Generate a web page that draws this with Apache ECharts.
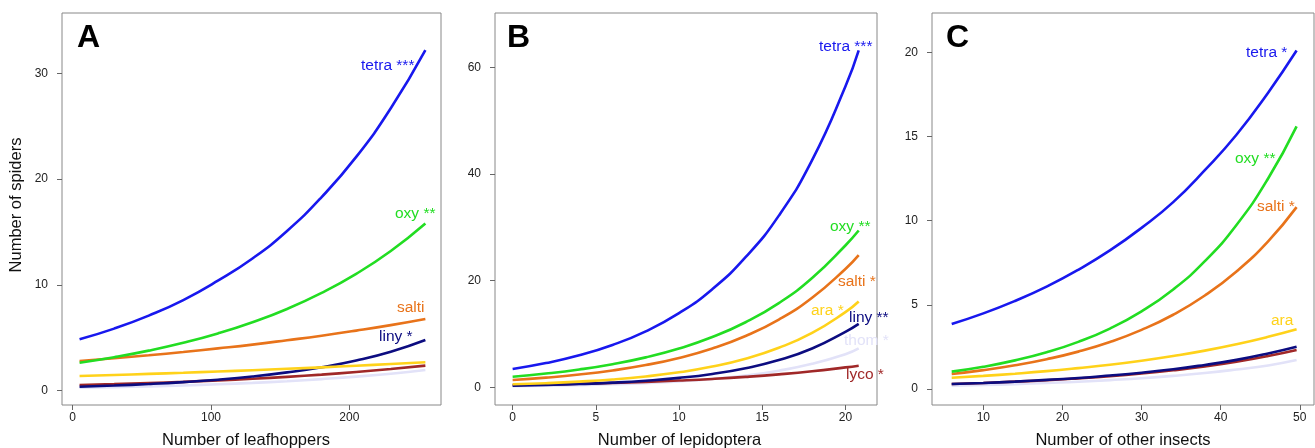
<!DOCTYPE html>
<html>
<head>
<meta charset="utf-8">
<script src="https://cdn.jsdelivr.net/npm/echarts@6/dist/echarts.min.js"></script>
<style>
  html, body { margin: 0; padding: 0; background: #fff; }
  #chart { width: 1315px; height: 448px; }
</style>
</head>
<body>
<div id="chart"></div>
<script>
// panel A: leafhoppers
const xA = [5, 30, 55, 80, 105, 130, 155, 180, 205, 230, 255];
const tetraA = [4.86, 5.87, 7.1, 8.57, 10.4, 12.5, 15.1, 18.3, 22.1, 26.7, 32.2];
const oxyA = [2.65, 3.17, 3.79, 4.53, 5.41, 6.47, 7.73, 9.25, 11.05, 13.2, 15.8];
const saltiA = [2.81, 3.07, 3.35, 3.66, 4.0, 4.36, 4.77, 5.2, 5.68, 6.2, 6.78];
const linyA = [0.38, 0.49, 0.63, 0.81, 1.04, 1.34, 1.73, 2.22, 2.86, 3.69, 4.8];
const araA = [1.39, 1.49, 1.59, 1.7, 1.82, 1.94, 2.07, 2.21, 2.36, 2.52, 2.69];
const lycoA = [0.54, 0.63, 0.73, 0.84, 0.98, 1.13, 1.31, 1.52, 1.77, 2.05, 2.37];
const thomA = [0.28, 0.34, 0.41, 0.5, 0.61, 0.74, 0.9, 1.1, 1.33, 1.61, 1.96];

// panel B: lepidoptera
const xB = [0, 2, 4, 6, 8, 10, 12, 14, 16, 18, 20, 20.8];
const tetraB = [3.43, 4.54, 6.0, 7.94, 10.5, 13.9, 18.4, 24.4, 32.2, 42.6, 56.4, 63.2];
const oxyB = [1.99, 2.58, 3.34, 4.33, 5.61, 7.27, 9.42, 12.2, 15.8, 20.5, 26.6, 29.4];
const saltiB = [1.37, 1.81, 2.39, 3.16, 4.17, 5.51, 7.28, 9.62, 12.7, 16.8, 22.2, 24.8];
const araB = [0.56, 0.77, 1.07, 1.47, 2.04, 2.81, 3.89, 5.36, 7.41, 10.2, 14.1, 16.1];
const linyB = [0.3, 0.43, 0.61, 0.87, 1.24, 1.76, 2.51, 3.58, 5.1, 7.27, 10.4, 11.9];
const thomB = [0.2, 0.28, 0.4, 0.56, 0.79, 1.11, 1.57, 2.21, 3.12, 4.4, 6.2, 7.3];
const lycoB = [0.43, 0.53, 0.66, 0.82, 1.02, 1.27, 1.57, 1.95, 2.42, 3.0, 3.73, 4.05];

// panel C: other insects
const xC = [6, 10, 14, 18, 22, 26, 30, 34, 38, 42, 46, 49.6];
const tetraC = [3.86, 4.49, 5.23, 6.08, 7.08, 8.23, 9.57, 11.1, 13.0, 15.1, 17.6, 20.1];
const oxyC = [1.03, 1.32, 1.7, 2.18, 2.8, 3.59, 4.61, 5.91, 7.59, 9.74, 12.5, 15.6];
const saltiC = [0.89, 1.12, 1.41, 1.77, 2.22, 2.79, 3.51, 4.41, 5.55, 6.98, 8.77, 10.8];
const araC = [0.67, 0.78, 0.91, 1.06, 1.24, 1.44, 1.68, 1.96, 2.28, 2.66, 3.1, 3.55];
const linyC = [0.3, 0.36, 0.44, 0.54, 0.65, 0.8, 0.97, 1.17, 1.43, 1.73, 2.11, 2.51];
const lycoC = [0.3, 0.36, 0.44, 0.52, 0.63, 0.76, 0.92, 1.11, 1.34, 1.62, 1.96, 2.32];
const thomC = [0.2, 0.24, 0.29, 0.36, 0.43, 0.53, 0.64, 0.78, 0.95, 1.16, 1.4, 1.72];

// tick labels
const xTicksA = [0, 100, 200];
const yTicksA = [0, 10, 20, 30];
const xTicksB = [0, 5, 10, 15, 20];
const yTicksB = [0, 20, 40, 60];
const xTicksC = [10, 20, 30, 40, 50];
const yTicksC = [0, 5, 10, 15, 20];

const colors = {
  tetra: '#1818ee',
  oxy: '#22dd22',
  salti: '#e8731a',
  ara: '#ffd21a',
  liny: '#0c0c80',
  lyco: '#a02828',
  thom: '#e2e2f8'
};

const font = 'Liberation Sans, Arial, Helvetica, sans-serif';

function pairs(xs, ys) {
  return xs.map((x, i) => [x, ys[i]]);
}

function line(name, idx, xs, ys) {
  return {
    name: name,
    type: 'line',
    xAxisIndex: idx,
    yAxisIndex: idx,
    data: pairs(xs, ys),
    smooth: true,
    showSymbol: false,
    silent: true,
    lineStyle: { color: colors[name], width: 2.6 }
  };
}

function xAx(idx, min, max, ticks, title, shift) {
  return {
    type: 'value',
    gridIndex: idx,
    position: 'bottom',
    min: min,
    max: max,
    splitLine: { show: false },
    axisLine: { show: false, onZero: false },
    axisTick: { show: true, inside: false, length: 5, customValues: ticks, lineStyle: { color: '#666' } },
    axisLabel: { customValues: ticks, margin: 7, color: '#222', fontSize: 12, fontFamily: font },
    name: title,
    nameLocation: 'middle',
    nameGap: 27,
    nameTextStyle: { color: '#111', fontSize: 16.5, fontFamily: font, padding: [0, shift, 0, 0] }
  };
}

function yAx(idx, min, max, ticks, title) {
  return {
    type: 'value',
    gridIndex: idx,
    position: 'left',
    min: min,
    max: max,
    splitLine: { show: false },
    axisLine: { show: false, onZero: false },
    axisTick: { show: true, inside: false, length: 5, customValues: ticks, lineStyle: { color: '#666' } },
    axisLabel: { customValues: ticks, margin: 14, color: '#222', fontSize: 12, fontFamily: font },
    name: title,
    nameLocation: 'middle',
    nameGap: 37,
    nameTextStyle: { color: '#111', fontSize: 16.5, fontFamily: font, padding: [0, 0, 0, 8] }
  };
}

function tag(text, x, y, color) {
  return {
    type: 'text',
    left: x,
    top: y - 9,
    z: 100,
    style: { text: text, fill: color, fontSize: 15.5, fontFamily: font }
  };
}

function letter(text, x) {
  return {
    type: 'text',
    left: x,
    top: 22,
    z: 100,
    style: { text: text, fill: '#000', fontSize: 32, fontWeight: 'bold', fontFamily: font }
  };
}

const chart = echarts.init(document.getElementById('chart'), null, { renderer: 'canvas' });
const gridStyle = {
  show: true,
  borderColor: '#888',
  borderWidth: 1,
  backgroundColor: 'transparent',
  containLabel: false,
  outerBoundsMode: 'none'
};

chart.setOption({
  animation: false,
  backgroundColor: '#fff',
  grid: [
    Object.assign({ left: 62, top: 13, width: 379, height: 392 }, gridStyle),
    Object.assign({ left: 495, top: 13, width: 382, height: 392 }, gridStyle),
    Object.assign({ left: 932, top: 13, width: 382, height: 392 }, gridStyle)
  ],
  xAxis: [
    xAx(0, -7.7, 266.3, xTicksA, 'Number of leafhoppers', 11),
    xAx(1, -1.06, 21.9, xTicksB, 'Number of lepidoptera', 13),
    xAx(2, 3.51, 51.8, xTicksC, 'Number of other insects', 0)
  ],
  yAxis: [
    yAx(0, -1.35, 35.7, yTicksA, 'Number of spiders'),
    yAx(1, -3.32, 70.2, yTicksB, ''),
    yAx(2, -0.95, 22.33, yTicksC, '')
  ],
  series: [
    line('thom', 0, xA, thomA),
    line('lyco', 0, xA, lycoA),
    line('liny', 0, xA, linyA),
    line('ara', 0, xA, araA),
    line('salti', 0, xA, saltiA),
    line('oxy', 0, xA, oxyA),
    line('tetra', 0, xA, tetraA),

    line('thom', 1, xB, thomB),
    line('lyco', 1, xB, lycoB),
    line('liny', 1, xB, linyB),
    line('ara', 1, xB, araB),
    line('salti', 1, xB, saltiB),
    line('oxy', 1, xB, oxyB),
    line('tetra', 1, xB, tetraB),

    line('thom', 2, xC, thomC),
    line('lyco', 2, xC, lycoC),
    line('liny', 2, xC, linyC),
    line('ara', 2, xC, araC),
    line('salti', 2, xC, saltiC),
    line('oxy', 2, xC, oxyC),
    line('tetra', 2, xC, tetraC)
  ],
  graphic: [
    letter('A', 77),
    letter('B', 507),
    letter('C', 946),

    tag('tetra ***', 361, 67, colors.tetra),
    tag('oxy **', 395, 215, colors.oxy),
    tag('salti', 397, 309, colors.salti),
    tag('liny *', 379, 338, colors.liny),

    tag('tetra ***', 819, 48, colors.tetra),
    tag('oxy **', 830, 228, colors.oxy),
    tag('salti *', 838, 283, colors.salti),
    tag('ara *', 811, 312, colors.ara),
    tag('liny **', 849, 319, colors.liny),
    tag('thom *', 844, 342, colors.thom),
    tag('lyco *', 846, 376, colors.lyco),

    tag('tetra *', 1246, 54, colors.tetra),
    tag('oxy **', 1235, 160, colors.oxy),
    tag('salti *', 1257, 208, colors.salti),
    tag('ara', 1271, 322, colors.ara)
  ]
});
</script>
</body>
</html>
